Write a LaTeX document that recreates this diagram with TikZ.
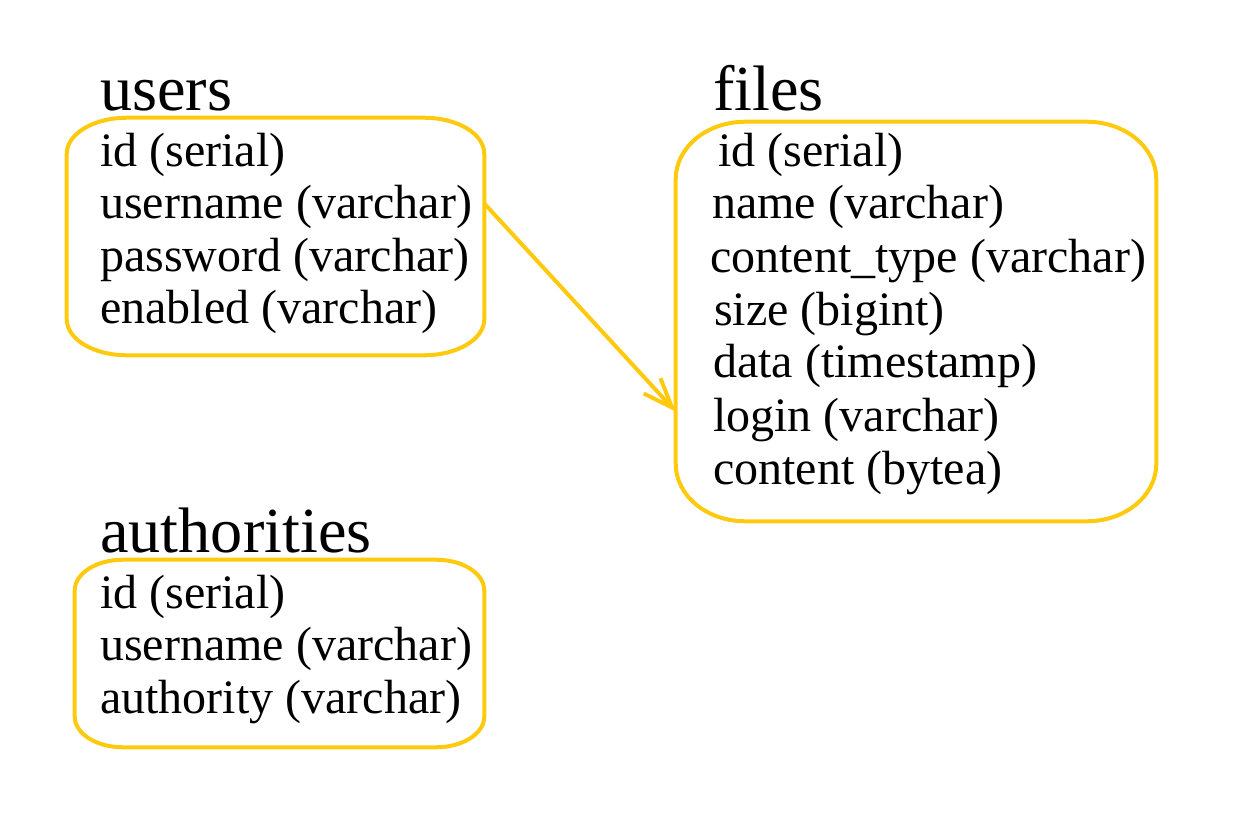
\documentclass[tikz,border=0pt]{standalone}
\usepackage{fontspec}
\setmainfont{Liberation Serif}
\usetikzlibrary{arrows.meta,fit,calc}

\definecolor{tblline}{HTML}{FFC90E}

% frame with elliptical corners around a fitted node
\newcommand{\ovalframe}[3]{%
  \draw[frameline]
    ([xshift=#2]#1.north west) -- ([xshift=-#2]#1.north east)
    arc[start angle=90,end angle=0,x radius=#2,y radius=#3]
    -- ([yshift=#3]#1.south east)
    arc[start angle=0,end angle=-90,x radius=#2,y radius=#3]
    -- ([xshift=#2]#1.south west)
    arc[start angle=270,end angle=180,x radius=#2,y radius=#3]
    -- ([yshift=-#3]#1.north west)
    arc[start angle=180,end angle=90,x radius=#2,y radius=#3]
    -- cycle;}

\begin{document}
\begin{tikzpicture}[x=0.75pt,y=-0.75pt,
  frameline/.style={draw=tblline,line width=3pt},
  tblarea/.style={inner sep=0pt,draw=none},
  title/.style={anchor=base west,inner sep=0pt,font=\fontsize{48.2}{53}\selectfont},
  field/.style={anchor=base west,inner sep=0pt,font=\fontsize{36}{40}\selectfont},
  link/.style={draw=tblline,line width=3pt,-{Straight Barb[length=22pt,width=17pt,line width=3pt]}}]
  \useasboundingbox (0,0) rectangle (1260,814);

  % table areas
  \node[tblarea,fit={(67,118) (484,355)}] (users) {};
  \node[tblarea,fit={(676,122) (1156,521)}] (files) {};
  \node[tblarea,fit={(75,560) (484,747)}] (auth) {};

  \ovalframe{users}{45pt}{27pt}
  \ovalframe{files}{52pt}{43pt}
  \ovalframe{auth}{36pt}{23pt}

  % users
  \node[title] (usersT) at (100,110) {users};
  \node[field] (u1) at (100,166) {id (serial)};
  \node[field] (u2) at (100,218) {username (varchar)};
  \node[field] (u3) at (100,271) {password (varchar)};
  \node[field] (u4) at (100,323) {enabled (varchar)};

  % files
  \node[title] (filesT) at (713,110) {files};
  \node[field] (f1) at (718,166) {id (serial)};
  \node[field] (f2) at (712,218) {name (varchar)};
  \node[field] (f3) at (710,272) {content\_type (varchar)};
  \node[field] (f4) at (714,325) {size (bigint)};
  \node[field] (f5) at (713,377) {data (timestamp)};
  \node[field] (f6) at (713,431) {login (varchar)};
  \node[field] (f7) at (713,484) {content (bytea)};

  % authorities
  \node[title] (authT) at (100,552) {authorities};
  \node[field] (a1) at (100,608) {id (serial)};
  \node[field] (a2) at (100,660) {username (varchar)};
  \node[field] (a3) at (100,713) {authority (varchar)};

  % reference users -> files
  \draw[link] ($(users.east |- u2)+(0,-3)$) -- ($(files.west |- f6)+(0,-8)$);
\end{tikzpicture}
\end{document}
